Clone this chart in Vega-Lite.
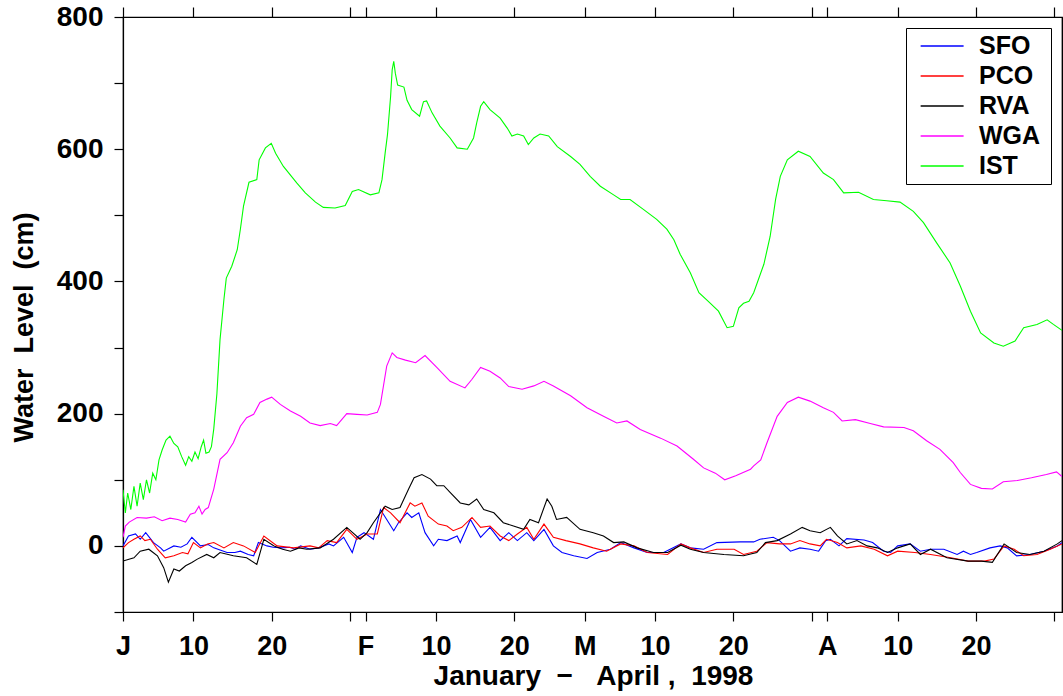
{
"$schema": "https://vega.github.io/schema/vega-lite/v6.json",
"autosize": "none",
"width": 939,
"height": 595,
"padding": {"left": 123, "top": 17, "right": 1, "bottom": 84},
"background": "white",
"config": {
  "font": "Liberation Sans",
  "view": {"stroke": "black", "strokeWidth": 1.2},
  "axis": {"grid": false, "domainColor": "black", "tickColor": "black", "labelColor": "black", "titleColor": "black", "labelFont": "Liberation Sans", "titleFont": "Liberation Sans", "labelFontWeight": "bold", "titleFontWeight": "bold", "domainWidth": 1.2, "tickWidth": 1.2}
},
"data": {"values": [
{"s":"IST","d":0,"v":85},{"s":"IST","d":0.3,"v":50},{"s":"IST","d":0.6,"v":80},{"s":"IST","d":1,"v":55},{"s":"IST","d":1.4,"v":90},{"s":"IST","d":1.8,"v":60},{"s":"IST","d":2.2,"v":95},{"s":"IST","d":2.6,"v":70},{"s":"IST","d":3,"v":100},{"s":"IST","d":3.4,"v":80},{"s":"IST","d":3.8,"v":110},{"s":"IST","d":4.2,"v":100},{"s":"IST","d":4.6,"v":130},{"s":"IST","d":5,"v":145},{"s":"IST","d":5.5,"v":160},{"s":"IST","d":6,"v":166},{"s":"IST","d":6.5,"v":155},{"s":"IST","d":7,"v":150},{"s":"IST","d":7.5,"v":135},{"s":"IST","d":8,"v":122},{"s":"IST","d":8.4,"v":135},{"s":"IST","d":8.8,"v":128},{"s":"IST","d":9.2,"v":142},{"s":"IST","d":9.6,"v":132},{"s":"IST","d":10,"v":150},{"s":"IST","d":10.3,"v":160},{"s":"IST","d":10.6,"v":140},{"s":"IST","d":11,"v":142},{"s":"IST","d":11.3,"v":150},{"s":"IST","d":11.6,"v":177},{"s":"IST","d":12,"v":230},{"s":"IST","d":12.4,"v":312},{"s":"IST","d":12.9,"v":373},{"s":"IST","d":13.2,"v":405},{"s":"IST","d":13.9,"v":423},{"s":"IST","d":14.6,"v":448},{"s":"IST","d":15,"v":479},{"s":"IST","d":15.4,"v":514},{"s":"IST","d":16.1,"v":550},{"s":"IST","d":17.1,"v":554},{"s":"IST","d":17.4,"v":584},{"s":"IST","d":18.2,"v":602},{"s":"IST","d":18.95,"v":609},{"s":"IST","d":19.5,"v":594},{"s":"IST","d":20.5,"v":574},{"s":"IST","d":22.2,"v":549},{"s":"IST","d":23.3,"v":534},{"s":"IST","d":24.6,"v":520},{"s":"IST","d":25.6,"v":512},{"s":"IST","d":27.1,"v":511},{"s":"IST","d":28.4,"v":515},{"s":"IST","d":29.3,"v":536},{"s":"IST","d":30.1,"v":539},{"s":"IST","d":31.6,"v":531},{"s":"IST","d":32.7,"v":534},{"s":"IST","d":33.1,"v":554},{"s":"IST","d":33.5,"v":594},{"s":"IST","d":33.8,"v":622},{"s":"IST","d":34.2,"v":680},{"s":"IST","d":34.4,"v":720},{"s":"IST","d":34.6,"v":733},{"s":"IST","d":34.8,"v":715},{"s":"IST","d":35.1,"v":697},{"s":"IST","d":35.9,"v":694},{"s":"IST","d":36.3,"v":674},{"s":"IST","d":36.9,"v":660},{"s":"IST","d":37.9,"v":650},{"s":"IST","d":38.4,"v":672},{"s":"IST","d":38.8,"v":673},{"s":"IST","d":39.5,"v":655},{"s":"IST","d":40.5,"v":635},{"s":"IST","d":41.8,"v":617},{"s":"IST","d":42.7,"v":602},{"s":"IST","d":44,"v":600},{"s":"IST","d":44.8,"v":617},{"s":"IST","d":45.2,"v":640},{"s":"IST","d":45.7,"v":665},{"s":"IST","d":46.1,"v":672},{"s":"IST","d":46.9,"v":660},{"s":"IST","d":48.2,"v":647},{"s":"IST","d":49.1,"v":632},{"s":"IST","d":49.7,"v":620},{"s":"IST","d":50.4,"v":623},{"s":"IST","d":51.2,"v":620},{"s":"IST","d":51.8,"v":607},{"s":"IST","d":52.5,"v":617},{"s":"IST","d":53.3,"v":623},{"s":"IST","d":54.4,"v":620},{"s":"IST","d":55.5,"v":604},{"s":"IST","d":57.2,"v":589},{"s":"IST","d":58.4,"v":577},{"s":"IST","d":59.7,"v":559},{"s":"IST","d":61,"v":544},{"s":"IST","d":62.7,"v":531},{"s":"IST","d":63.6,"v":524},{"s":"IST","d":64.8,"v":524},{"s":"IST","d":66.5,"v":509},{"s":"IST","d":68.2,"v":494},{"s":"IST","d":69.5,"v":479},{"s":"IST","d":70.4,"v":463},{"s":"IST","d":71.2,"v":441},{"s":"IST","d":72.5,"v":413},{"s":"IST","d":73.6,"v":383},{"s":"IST","d":74.8,"v":370},{"s":"IST","d":76.1,"v":355},{"s":"IST","d":77.2,"v":330},{"s":"IST","d":78,"v":332},{"s":"IST","d":78.7,"v":360},{"s":"IST","d":79.3,"v":367},{"s":"IST","d":80,"v":370},{"s":"IST","d":80.6,"v":383},{"s":"IST","d":81.9,"v":426},{"s":"IST","d":82.7,"v":468},{"s":"IST","d":83.4,"v":524},{"s":"IST","d":84,"v":559},{"s":"IST","d":84.9,"v":584},{"s":"IST","d":86.3,"v":597},{"s":"IST","d":87.8,"v":589},{"s":"IST","d":89.5,"v":564},{"s":"IST","d":90.8,"v":554},{"s":"IST","d":92.1,"v":534},{"s":"IST","d":94,"v":535},{"s":"IST","d":95.9,"v":524},{"s":"IST","d":97.6,"v":522},{"s":"IST","d":99.3,"v":520},{"s":"IST","d":101,"v":506},{"s":"IST","d":102.3,"v":489},{"s":"IST","d":104,"v":458},{"s":"IST","d":105.7,"v":428},{"s":"IST","d":107,"v":393},{"s":"IST","d":108.3,"v":355},{"s":"IST","d":109.6,"v":322},{"s":"IST","d":111.3,"v":307},{"s":"IST","d":112.5,"v":302},{"s":"IST","d":114,"v":310},{"s":"IST","d":115.1,"v":330},{"s":"IST","d":116.8,"v":335},{"s":"IST","d":118.1,"v":342},{"s":"IST","d":118.9,"v":335},{"s":"IST","d":120,"v":326},
{"s":"WGA","d":0,"v":13},{"s":"WGA","d":0.3,"v":30},{"s":"WGA","d":0.8,"v":36},{"s":"WGA","d":1.8,"v":43},{"s":"WGA","d":3,"v":42},{"s":"WGA","d":4,"v":44},{"s":"WGA","d":5,"v":38},{"s":"WGA","d":6,"v":42},{"s":"WGA","d":7,"v":40},{"s":"WGA","d":8,"v":36},{"s":"WGA","d":8.6,"v":48},{"s":"WGA","d":9.2,"v":50},{"s":"WGA","d":9.7,"v":60},{"s":"WGA","d":10.1,"v":48},{"s":"WGA","d":10.5,"v":55},{"s":"WGA","d":10.9,"v":58},{"s":"WGA","d":11.6,"v":86},{"s":"WGA","d":12.4,"v":131},{"s":"WGA","d":13.3,"v":141},{"s":"WGA","d":14.1,"v":156},{"s":"WGA","d":15,"v":181},{"s":"WGA","d":15.8,"v":194},{"s":"WGA","d":16.7,"v":199},{"s":"WGA","d":17.5,"v":217},{"s":"WGA","d":18.4,"v":222},{"s":"WGA","d":19,"v":225},{"s":"WGA","d":20.1,"v":214},{"s":"WGA","d":21.4,"v":204},{"s":"WGA","d":22.7,"v":196},{"s":"WGA","d":23.9,"v":186},{"s":"WGA","d":25.2,"v":182},{"s":"WGA","d":26.5,"v":185},{"s":"WGA","d":27.3,"v":182},{"s":"WGA","d":28.6,"v":200},{"s":"WGA","d":29.9,"v":199},{"s":"WGA","d":31.2,"v":198},{"s":"WGA","d":32.5,"v":202},{"s":"WGA","d":32.9,"v":214},{"s":"WGA","d":33.7,"v":272},{"s":"WGA","d":34.4,"v":292},{"s":"WGA","d":35,"v":285},{"s":"WGA","d":36.1,"v":281},{"s":"WGA","d":37.4,"v":277},{"s":"WGA","d":38.6,"v":288},{"s":"WGA","d":40.1,"v":270},{"s":"WGA","d":41.8,"v":249},{"s":"WGA","d":43.7,"v":239},{"s":"WGA","d":44.6,"v":252},{"s":"WGA","d":45.7,"v":270},{"s":"WGA","d":46.9,"v":264},{"s":"WGA","d":48.2,"v":254},{"s":"WGA","d":49.3,"v":241},{"s":"WGA","d":51,"v":237},{"s":"WGA","d":52.5,"v":242},{"s":"WGA","d":53.8,"v":249},{"s":"WGA","d":55,"v":242},{"s":"WGA","d":57.2,"v":227},{"s":"WGA","d":59.3,"v":209},{"s":"WGA","d":61.4,"v":196},{"s":"WGA","d":63.1,"v":186},{"s":"WGA","d":64.4,"v":189},{"s":"WGA","d":66.1,"v":176},{"s":"WGA","d":68.7,"v":163},{"s":"WGA","d":70.8,"v":151},{"s":"WGA","d":72.9,"v":131},{"s":"WGA","d":74.2,"v":118},{"s":"WGA","d":75.7,"v":110},{"s":"WGA","d":76.9,"v":100},{"s":"WGA","d":78.3,"v":106},{"s":"WGA","d":80.2,"v":116},{"s":"WGA","d":80.6,"v":121},{"s":"WGA","d":81.5,"v":130},{"s":"WGA","d":82.3,"v":156},{"s":"WGA","d":83.6,"v":196},{"s":"WGA","d":84.9,"v":217},{"s":"WGA","d":86.3,"v":225},{"s":"WGA","d":87.8,"v":219},{"s":"WGA","d":89.5,"v":209},{"s":"WGA","d":90.8,"v":202},{"s":"WGA","d":91.9,"v":189},{"s":"WGA","d":93.6,"v":191},{"s":"WGA","d":95.5,"v":185},{"s":"WGA","d":97.2,"v":180},{"s":"WGA","d":99.8,"v":179},{"s":"WGA","d":101,"v":174},{"s":"WGA","d":102.7,"v":159},{"s":"WGA","d":104.4,"v":146},{"s":"WGA","d":106.1,"v":126},{"s":"WGA","d":107,"v":111},{"s":"WGA","d":108.3,"v":93},{"s":"WGA","d":109.7,"v":87},{"s":"WGA","d":111.1,"v":86},{"s":"WGA","d":112.5,"v":97},{"s":"WGA","d":114.3,"v":99},{"s":"WGA","d":116.1,"v":103},{"s":"WGA","d":118,"v":108},{"s":"WGA","d":119.3,"v":112},{"s":"WGA","d":120,"v":105},
{"s":"SFO","d":0,"v":0},{"s":"SFO","d":0.7,"v":15},{"s":"SFO","d":1.6,"v":18},{"s":"SFO","d":2.2,"v":10},{"s":"SFO","d":2.9,"v":20},{"s":"SFO","d":3.9,"v":5},{"s":"SFO","d":4.8,"v":-3},{"s":"SFO","d":5.2,"v":-8},{"s":"SFO","d":6.5,"v":0},{"s":"SFO","d":7.4,"v":-2},{"s":"SFO","d":8.2,"v":3},{"s":"SFO","d":8.8,"v":13},{"s":"SFO","d":9.9,"v":0},{"s":"SFO","d":10.9,"v":2},{"s":"SFO","d":11.6,"v":-3},{"s":"SFO","d":13.3,"v":-10},{"s":"SFO","d":14.3,"v":-10},{"s":"SFO","d":15,"v":-8},{"s":"SFO","d":16,"v":-13},{"s":"SFO","d":16.7,"v":-15},{"s":"SFO","d":17.3,"v":5},{"s":"SFO","d":18.4,"v":0},{"s":"SFO","d":19.2,"v":-2},{"s":"SFO","d":20.3,"v":-3},{"s":"SFO","d":21.3,"v":-2},{"s":"SFO","d":22,"v":-5},{"s":"SFO","d":22.7,"v":0},{"s":"SFO","d":23.9,"v":-5},{"s":"SFO","d":25,"v":-3},{"s":"SFO","d":26.3,"v":3},{"s":"SFO","d":26.9,"v":0},{"s":"SFO","d":28.2,"v":13},{"s":"SFO","d":29.3,"v":-10},{"s":"SFO","d":29.9,"v":13},{"s":"SFO","d":30.8,"v":20},{"s":"SFO","d":32,"v":10},{"s":"SFO","d":32.9,"v":55},{"s":"SFO","d":33.7,"v":40},{"s":"SFO","d":34.6,"v":23},{"s":"SFO","d":35.2,"v":35},{"s":"SFO","d":36.3,"v":50},{"s":"SFO","d":36.9,"v":43},{"s":"SFO","d":37.8,"v":50},{"s":"SFO","d":38.6,"v":20},{"s":"SFO","d":39.7,"v":0},{"s":"SFO","d":40.3,"v":10},{"s":"SFO","d":41.4,"v":8},{"s":"SFO","d":42.7,"v":15},{"s":"SFO","d":43.1,"v":5},{"s":"SFO","d":44.4,"v":40},{"s":"SFO","d":45.7,"v":13},{"s":"SFO","d":46.9,"v":28},{"s":"SFO","d":48.2,"v":8},{"s":"SFO","d":49.3,"v":20},{"s":"SFO","d":50.4,"v":8},{"s":"SFO","d":51.6,"v":20},{"s":"SFO","d":52.5,"v":8},{"s":"SFO","d":53.8,"v":25},{"s":"SFO","d":55,"v":0},{"s":"SFO","d":56.1,"v":-10},{"s":"SFO","d":57.6,"v":-15},{"s":"SFO","d":59.3,"v":-19},{"s":"SFO","d":60.6,"v":-10},{"s":"SFO","d":62.3,"v":-5},{"s":"SFO","d":63.6,"v":5},{"s":"SFO","d":65.3,"v":-3},{"s":"SFO","d":67,"v":-10},{"s":"SFO","d":69.1,"v":-10},{"s":"SFO","d":71.3,"v":3},{"s":"SFO","d":72.5,"v":-3},{"s":"SFO","d":74.2,"v":-5},{"s":"SFO","d":75.9,"v":5},{"s":"SFO","d":78.9,"v":6},{"s":"SFO","d":80.6,"v":6},{"s":"SFO","d":81.4,"v":10},{"s":"SFO","d":83.1,"v":13},{"s":"SFO","d":83.9,"v":8},{"s":"SFO","d":85.3,"v":-8},{"s":"SFO","d":86.5,"v":-3},{"s":"SFO","d":87.8,"v":-5},{"s":"SFO","d":88.9,"v":-8},{"s":"SFO","d":89.8,"v":8},{"s":"SFO","d":90.4,"v":10},{"s":"SFO","d":91.5,"v":0},{"s":"SFO","d":92.5,"v":11},{"s":"SFO","d":94.7,"v":9},{"s":"SFO","d":95.8,"v":5},{"s":"SFO","d":97.2,"v":-8},{"s":"SFO","d":98.1,"v":-10},{"s":"SFO","d":99,"v":0},{"s":"SFO","d":100.6,"v":3},{"s":"SFO","d":101.9,"v":-8},{"s":"SFO","d":103.2,"v":-5},{"s":"SFO","d":104.9,"v":-5},{"s":"SFO","d":106.6,"v":-13},{"s":"SFO","d":107.4,"v":-8},{"s":"SFO","d":108.3,"v":-13},{"s":"SFO","d":109.1,"v":-10},{"s":"SFO","d":110.8,"v":-3},{"s":"SFO","d":112.1,"v":0},{"s":"SFO","d":113,"v":-3},{"s":"SFO","d":114.2,"v":-15},{"s":"SFO","d":115.9,"v":-13},{"s":"SFO","d":117.7,"v":-8},{"s":"SFO","d":119.4,"v":0},{"s":"SFO","d":120,"v":5},
{"s":"PCO","d":0,"v":-3},{"s":"PCO","d":0.7,"v":5},{"s":"PCO","d":1.4,"v":10},{"s":"PCO","d":2.2,"v":15},{"s":"PCO","d":2.8,"v":8},{"s":"PCO","d":3.5,"v":10},{"s":"PCO","d":4.4,"v":-5},{"s":"PCO","d":5.4,"v":-18},{"s":"PCO","d":6.5,"v":-15},{"s":"PCO","d":7.6,"v":-10},{"s":"PCO","d":8.3,"v":-12},{"s":"PCO","d":9,"v":5},{"s":"PCO","d":9.9,"v":-3},{"s":"PCO","d":10.8,"v":3},{"s":"PCO","d":11.6,"v":5},{"s":"PCO","d":12.9,"v":-3},{"s":"PCO","d":14.1,"v":5},{"s":"PCO","d":15.4,"v":0},{"s":"PCO","d":16.9,"v":-10},{"s":"PCO","d":18,"v":15},{"s":"PCO","d":19.7,"v":0},{"s":"PCO","d":21.8,"v":-3},{"s":"PCO","d":23.9,"v":0},{"s":"PCO","d":25,"v":-3},{"s":"PCO","d":26.1,"v":8},{"s":"PCO","d":27.3,"v":5},{"s":"PCO","d":28.6,"v":25},{"s":"PCO","d":29.9,"v":10},{"s":"PCO","d":31.2,"v":18},{"s":"PCO","d":32.5,"v":18},{"s":"PCO","d":33.3,"v":58},{"s":"PCO","d":34.2,"v":50},{"s":"PCO","d":35.4,"v":35},{"s":"PCO","d":36.7,"v":65},{"s":"PCO","d":37.3,"v":60},{"s":"PCO","d":38.2,"v":65},{"s":"PCO","d":39,"v":45},{"s":"PCO","d":40.3,"v":33},{"s":"PCO","d":41.4,"v":30},{"s":"PCO","d":42.2,"v":23},{"s":"PCO","d":43.3,"v":28},{"s":"PCO","d":44.6,"v":43},{"s":"PCO","d":45.7,"v":28},{"s":"PCO","d":46.9,"v":30},{"s":"PCO","d":48.2,"v":15},{"s":"PCO","d":49.3,"v":8},{"s":"PCO","d":50.4,"v":18},{"s":"PCO","d":51.6,"v":28},{"s":"PCO","d":52.5,"v":10},{"s":"PCO","d":53.8,"v":33},{"s":"PCO","d":55,"v":13},{"s":"PCO","d":56.6,"v":8},{"s":"PCO","d":58.4,"v":3},{"s":"PCO","d":60.1,"v":-3},{"s":"PCO","d":61.8,"v":-8},{"s":"PCO","d":63.6,"v":3},{"s":"PCO","d":65.3,"v":0},{"s":"PCO","d":67,"v":-10},{"s":"PCO","d":69.6,"v":-13},{"s":"PCO","d":71.3,"v":3},{"s":"PCO","d":72.5,"v":-3},{"s":"PCO","d":74.2,"v":-10},{"s":"PCO","d":75.9,"v":-5},{"s":"PCO","d":78.1,"v":-5},{"s":"PCO","d":79.3,"v":-13},{"s":"PCO","d":81,"v":-8},{"s":"PCO","d":82.3,"v":5},{"s":"PCO","d":83.9,"v":3},{"s":"PCO","d":85.3,"v":3},{"s":"PCO","d":86.5,"v":8},{"s":"PCO","d":87.8,"v":3},{"s":"PCO","d":89.1,"v":0},{"s":"PCO","d":89.9,"v":10},{"s":"PCO","d":91.3,"v":5},{"s":"PCO","d":92.5,"v":-3},{"s":"PCO","d":94.3,"v":0},{"s":"PCO","d":96,"v":-5},{"s":"PCO","d":97.7,"v":-15},{"s":"PCO","d":99,"v":-8},{"s":"PCO","d":101.2,"v":-10},{"s":"PCO","d":103.2,"v":-13},{"s":"PCO","d":105.8,"v":-18},{"s":"PCO","d":108,"v":-23},{"s":"PCO","d":110.1,"v":-23},{"s":"PCO","d":111.3,"v":-20},{"s":"PCO","d":112.6,"v":0},{"s":"PCO","d":113.9,"v":-5},{"s":"PCO","d":115.1,"v":-15},{"s":"PCO","d":116.8,"v":-13},{"s":"PCO","d":118.5,"v":-5},{"s":"PCO","d":120,"v":3},
{"s":"RVA","d":0,"v":-23},{"s":"RVA","d":1.4,"v":-18},{"s":"RVA","d":2.2,"v":-8},{"s":"RVA","d":3.3,"v":-5},{"s":"RVA","d":4.4,"v":-15},{"s":"RVA","d":5.2,"v":-33},{"s":"RVA","d":5.8,"v":-55},{"s":"RVA","d":6.5,"v":-35},{"s":"RVA","d":7.2,"v":-38},{"s":"RVA","d":8,"v":-30},{"s":"RVA","d":8.8,"v":-25},{"s":"RVA","d":9.5,"v":-20},{"s":"RVA","d":10.7,"v":-13},{"s":"RVA","d":11.6,"v":-18},{"s":"RVA","d":12.4,"v":-10},{"s":"RVA","d":14.1,"v":-15},{"s":"RVA","d":15.8,"v":-18},{"s":"RVA","d":17.1,"v":-28},{"s":"RVA","d":18,"v":10},{"s":"RVA","d":19.3,"v":0},{"s":"RVA","d":20.4,"v":-5},{"s":"RVA","d":21.4,"v":-8},{"s":"RVA","d":22.5,"v":-3},{"s":"RVA","d":23.5,"v":-5},{"s":"RVA","d":25.2,"v":-3},{"s":"RVA","d":26.9,"v":10},{"s":"RVA","d":28.6,"v":28},{"s":"RVA","d":30.3,"v":10},{"s":"RVA","d":31.2,"v":20},{"s":"RVA","d":32,"v":35},{"s":"RVA","d":33.5,"v":60},{"s":"RVA","d":34.4,"v":55},{"s":"RVA","d":35.4,"v":58},{"s":"RVA","d":36.5,"v":86},{"s":"RVA","d":37.2,"v":103},{"s":"RVA","d":38.2,"v":108},{"s":"RVA","d":39.3,"v":101},{"s":"RVA","d":40.1,"v":91},{"s":"RVA","d":41,"v":91},{"s":"RVA","d":41.8,"v":81},{"s":"RVA","d":43.1,"v":65},{"s":"RVA","d":44.2,"v":62},{"s":"RVA","d":45.2,"v":71},{"s":"RVA","d":46.1,"v":55},{"s":"RVA","d":47.4,"v":50},{"s":"RVA","d":48.6,"v":35},{"s":"RVA","d":49.9,"v":30},{"s":"RVA","d":51.2,"v":25},{"s":"RVA","d":52,"v":40},{"s":"RVA","d":53.1,"v":35},{"s":"RVA","d":54.2,"v":71},{"s":"RVA","d":54.8,"v":60},{"s":"RVA","d":55.4,"v":40},{"s":"RVA","d":56.7,"v":43},{"s":"RVA","d":58.4,"v":25},{"s":"RVA","d":60.1,"v":20},{"s":"RVA","d":61.4,"v":15},{"s":"RVA","d":62.7,"v":5},{"s":"RVA","d":64,"v":6},{"s":"RVA","d":65.7,"v":-3},{"s":"RVA","d":67.8,"v":-10},{"s":"RVA","d":69.6,"v":-10},{"s":"RVA","d":71.3,"v":1},{"s":"RVA","d":72.5,"v":-5},{"s":"RVA","d":74.2,"v":-10},{"s":"RVA","d":76.8,"v":-13},{"s":"RVA","d":79.3,"v":-15},{"s":"RVA","d":81,"v":-10},{"s":"RVA","d":82.1,"v":5},{"s":"RVA","d":83.6,"v":8},{"s":"RVA","d":85.3,"v":18},{"s":"RVA","d":86.8,"v":28},{"s":"RVA","d":87.8,"v":23},{"s":"RVA","d":89.1,"v":20},{"s":"RVA","d":90.4,"v":28},{"s":"RVA","d":91.3,"v":15},{"s":"RVA","d":92.5,"v":3},{"s":"RVA","d":93.8,"v":8},{"s":"RVA","d":95.1,"v":0},{"s":"RVA","d":96.4,"v":-3},{"s":"RVA","d":97.7,"v":-10},{"s":"RVA","d":99,"v":-3},{"s":"RVA","d":100.6,"v":3},{"s":"RVA","d":101.9,"v":-13},{"s":"RVA","d":103.2,"v":-5},{"s":"RVA","d":105.3,"v":-18},{"s":"RVA","d":108,"v":-23},{"s":"RVA","d":109.7,"v":-23},{"s":"RVA","d":111.1,"v":-25},{"s":"RVA","d":112.6,"v":3},{"s":"RVA","d":114.2,"v":-10},{"s":"RVA","d":115.9,"v":-13},{"s":"RVA","d":117.7,"v":-8},{"s":"RVA","d":119.4,"v":3},{"s":"RVA","d":120,"v":8}
]},
"layer": [
 {
  "mark": {"type": "line", "strokeWidth": 1.1, "clip": true},
  "encoding": {
   "x": {"field": "d", "type": "quantitative",
     "scale": {"domain": [0, 120], "nice": false, "zero": false},
     "axis": {"orient": "bottom", "values": [0,9,19,29,31,40,50,59,68,78,88,90,99,109,119],
       "labelExpr": "datum.value==0?'J':datum.value==31?'F':datum.value==59?'M':datum.value==90?'A':(datum.value==29||datum.value==88||datum.value==119)?'':(datum.value==9||datum.value==40||datum.value==68||datum.value==99)?'10':'20'",
       "labelFontSize": 27, "tickSize": 9, "labelPadding": 12, "labelOverlap": false, "labelFlush": false, "labelBound": false,
       "title": "January\u00a0\u00a0\u2212\u00a0\u00a0\u00a0April\u00a0,\u00a0\u00a01998", "titleFontSize": 28, "titleBaseline": "alphabetic", "titleY": 72.5, "titleX": 470}},
   "y": {"field": "v", "type": "quantitative",
     "scale": {"domain": [-100, 800], "nice": false, "zero": false},
     "axis": {"orient": "left", "values": [-100,0,100,200,300,400,500,600,700,800],
       "labelExpr": "(datum.value % 200 == 0 && datum.value >= 0) ? datum.label : ''",
       "labelFontSize": 28, "tickSize": 9, "labelPadding": 11, "labelOverlap": false, "labelBound": false,
       "title": "Water\u00a0\u00a0Level\u00a0\u00a0(cm)", "titleFontSize": 27, "titleAngle": -90, "titleBaseline": "alphabetic", "titleAlign": "center", "titleX": -91, "titleY": 310}},
   "color": {"field": "s", "type": "nominal",
     "scale": {"domain": ["SFO","PCO","RVA","WGA","IST"], "range": ["#0000ff","#ff0000","#000000","#ff00ff","#00ff00"]},
     "legend": {"title": null, "orient": "none", "legendX": 783, "legendY": 11, "strokeColor": "black", "fillColor": "white", "padding": 5,
       "symbolType": "M-0.28,0H3.3M9.9,0", "symbolSize": 576, "symbolStrokeWidth": 1.5, "labelFontSize": 25, "labelFont": "Liberation Sans", "labelFontWeight": "bold", "labelColor": "black", "labelOffset": 42, "rowPadding": 4}}
  }
 },
 {
  "mark": {"type": "line", "strokeOpacity": 0},
  "encoding": {
   "x": {"field": "d", "type": "quantitative", "axis": {"orient": "top", "values": [0,9,19,29,31,40,50,59,68,78,88,90,99,109,119], "labels": false, "tickSize": 10, "title": null}},
   "y": {"field": "v", "type": "quantitative", "axis": {"orient": "right", "labels": false, "ticks": false, "title": null}},
   "detail": {"field": "s"}
  }
 }
],
"resolve": {"axis": {"x": "independent", "y": "independent"}}
}
